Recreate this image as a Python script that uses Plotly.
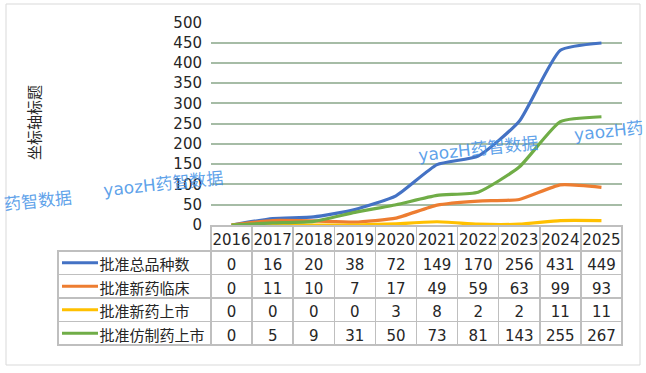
import plotly.graph_objects as go

years = ["2016", "2017", "2018", "2019", "2020", "2021", "2022", "2023", "2024", "2025"]
series_names = ["批准总品种数", "批准新药临床", "批准新药上市", "批准仿制药上市"]
total = [0, 16, 20, 38, 72, 149, 170, 256, 431, 449]
new_clinical = [0, 11, 10, 7, 17, 49, 59, 63, 99, 93]
new_market = [0, 0, 0, 0, 3, 8, 2, 2, 11, 11]
generic = [0, 5, 9, 31, 50, 73, 81, 143, 255, 267]
series_values = [total, new_clinical, new_market, generic]
colors = ["#4472C4", "#ED7D31", "#FFC000", "#70AD47"]
y_ticks = [0, 50, 100, 150, 200, 250, 300, 350, 400, 450, 500]

W, H = 646, 373
FONT = "DejaVu Sans, Noto Sans CJK SC, sans-serif"

def px(x):
    return x / W

def py(y):
    return 1 - y / H

fig = go.Figure()
xs = list(range(len(years)))
for name, vals, c in zip(series_names, series_values, colors):
    fig.add_trace(go.Scatter(x=xs, y=vals, mode="lines", name=name,
                             line=dict(color=c, width=3.2, shape="spline", smoothing=0.5),
                             showlegend=False, hoverinfo="skip"))

# data table
grid = "#bfbfbf"
pad = "\u00a0" * 7
first_col = [pad + n for n in series_names]
cols = [first_col] + [[str(s[i]) for s in series_values] for i in range(len(years))]
fig.add_trace(go.Table(
    domain=dict(x=[px(58), px(622.5)], y=[py(352), py(226)]),
    columnwidth=[153] + [41.1] * len(years),
    header=dict(values=[""] + years, height=25,
                line=dict(color=["rgba(0,0,0,0)"] + [grid] * len(years), width=1.5),
                fill=dict(color="rgba(0,0,0,0)"),
                font=dict(family=FONT, size=15, color="#262626"), align="center"),
    cells=dict(values=cols, height=23.5,
               line=dict(color=grid, width=1.5),
               fill=dict(color="white"),
               font=dict(family=FONT, size=15, color="#262626"),
               align=["left"] + ["center"] * len(years)),
))

shapes = []
# outer border
shapes.append(dict(type="rect", xref="paper", yref="paper", x0=px(6), x1=px(640), y0=py(365), y1=py(4),
                   line=dict(color="#d9d9d9", width=1)))
# legend swatches in table
for i, c in enumerate(colors):
    yc = 251 + 23.5 * i + 11.75
    shapes.append(dict(type="line", xref="paper", yref="paper", x0=px(62), x1=px(98), y0=py(yc), y1=py(yc),
                       line=dict(color=c, width=3)))

annotations = [dict(text="坐标轴标题", xref="paper", yref="paper", x=px(35), y=py(123), textangle=-90,
                    xanchor="center", yanchor="middle",
                    showarrow=False, font=dict(family=FONT, size=15, color="#262626"))]
wm_color = "rgba(66,145,230,0.85)"
watermarks = [("yaozH药智数据", 163, 184), ("药智数据", 38, 201),
              ("yaozH药智数据", 478, 149), ("yaozH药", 609, 131)]
for (txt, cx, cy) in watermarks:
    annotations.append(dict(text=txt, xref="paper", yref="paper", x=px(cx), y=py(cy),
                            textangle=-6, showarrow=False, xanchor="center", yanchor="middle",
                            font=dict(family=FONT, size=17, color=wm_color)))

fig.update_layout(
    width=W, height=H, margin=dict(l=0, r=0, t=0, b=0, autoexpand=False),
    paper_bgcolor="white", plot_bgcolor="white",
    xaxis=dict(domain=[px(211), px(622)], range=[-0.5, 9.5], visible=False, fixedrange=True,
               automargin=False),
    yaxis=dict(domain=[py(225), py(22.3)], range=[0, 500], tickvals=y_ticks, automargin=False,
               showgrid=True, gridcolor="#a6bca6", gridwidth=1.5, zeroline=False,
               ticks="outside", ticklen=5, tickcolor="rgba(0,0,0,0)",
               tickfont=dict(family=FONT, size=15, color="#262626"), fixedrange=True),
    shapes=shapes, annotations=annotations, showlegend=False,
)

fig.write_html("out.html", config={"displayModeBar": False},
               post_script="document.body.style.margin='0';document.body.style.overflow='hidden';")
